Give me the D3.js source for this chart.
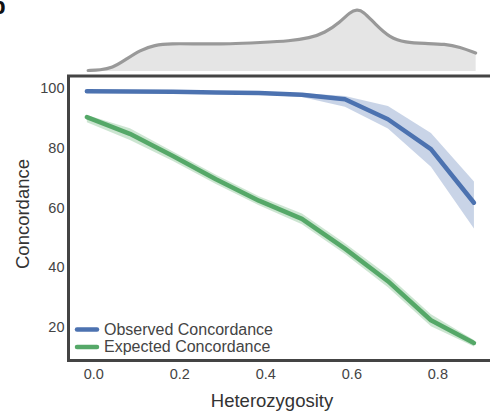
<!DOCTYPE html>
<head>
  <meta charset="utf-8">
  <script src="https://d3js.org/d3.v7.min.js"></script>
  <style>
    html, body { margin: 0; padding: 0; background: #fff; overflow: hidden; }
    svg { display: block; font-family: "Liberation Sans", Arial, sans-serif; }
  </style>
</head>
<body>
<script>
  // heterozygosity bins (x) and concordance series
  var het = [-0.015, 0.085, 0.185, 0.285, 0.385, 0.485, 0.585, 0.685, 0.785, 0.885];
  var observed = [99.0, 98.9, 98.8, 98.6, 98.4, 97.8, 96.3, 89.6, 79.6, 61.6];
  var observedLo = [98.7, 98.6, 98.4, 98.2, 97.9, 97.1, 93.8, 86.5, 73.7, 53.0];
  var observedHi = [99.3, 99.2, 99.1, 99.0, 98.8, 98.4, 97.4, 94.0, 85.0, 68.7];
  var expected = [90.3, 84.7, 77.3, 69.5, 62.3, 56.2, 46.2, 35.3, 22.2, 14.6];
  var expectedLo = [88.6, 82.6, 75.6, 67.9, 60.8, 54.4, 44.4, 33.3, 20.2, 13.4];
  var expectedHi = [91.0, 86.6, 78.8, 71.0, 63.8, 58.0, 48.0, 37.3, 24.2, 15.6];

  // marginal density of heterozygosity (top panel)
  var densX = [-0.012, 0.016, 0.044, 0.074, 0.109, 0.143, 0.178, 0.248, 0.318, 0.388, 0.457, 0.503,
               0.538, 0.574, 0.597, 0.613, 0.627, 0.655, 0.690, 0.725, 0.771, 0.818, 0.852, 0.889];
  var densY = [0.05, 0.1, 0.3, 1.1, 2.1, 2.6, 2.75, 2.7, 2.7, 2.85, 3.0, 3.3,
               3.8, 4.9, 5.9, 6.15, 6.0, 4.7, 3.3, 2.85, 2.75, 2.7, 2.4, 1.8];

  var xTicks = [0.0, 0.2, 0.4, 0.6, 0.8];
  var yTicks = [20, 40, 60, 80, 100];
  var seriesNames = ["Observed Concordance", "Expected Concordance"];
  var colors = ["#4c72b0", "#55a868"];

  var W = 490, H = 417;
  var svg = d3.select("body").append("svg").attr("width", W).attr("height", H);

  var xScale = d3.scaleLinear().domain([-0.0577, 0.9335]).range([68.5, 494.8]);
  var yScale = d3.scaleLinear().domain([8.7, 104.1]).range([360.5, 76]);
  var dScale = d3.scaleLinear().domain([0, 6.15]).range([71, 9.5]);

  // panel letters (cut off in the original figure)
  svg.append("text").attr("x", -9).attr("y", 14).attr("font-size", 24)
    .attr("font-weight", "bold").attr("fill", "#111").text("b");
  svg.append("text").attr("x", -8).attr("y", 432).attr("font-size", 24)
    .attr("font-weight", "bold").attr("fill", "#111").text("c");

  // density panel
  var dens = densX.map(function(x, i) { return [x, densY[i]]; });
  svg.append("path").datum(dens)
    .attr("d", d3.area().curve(d3.curveBasis)
      .x(function(d) { return xScale(d[0]); })
      .y0(dScale(0)).y1(function(d) { return dScale(d[1]); }))
    .attr("fill", "#e5e5e5");
  svg.append("path").datum(dens)
    .attr("d", d3.line().curve(d3.curveBasis)
      .x(function(d) { return xScale(d[0]); })
      .y(function(d) { return dScale(d[1]); }))
    .attr("fill", "none").attr("stroke", "#999").attr("stroke-width", 3.2)
    .attr("stroke-linecap", "round");

  // main plot bands and lines
  var series = [
    {mid: observed, lo: observedLo, hi: observedHi},
    {mid: expected, lo: expectedLo, hi: expectedHi}
  ];
  var plot = svg.append("g");
  series.forEach(function(s, k) {
    var pts = het.map(function(h, i) { return {x: h, m: s.mid[i], lo: s.lo[i], hi: s.hi[i]}; });
    plot.append("path").datum(pts)
      .attr("d", d3.area()
        .x(function(d) { return xScale(d.x); })
        .y0(function(d) { return yScale(d.lo); })
        .y1(function(d) { return yScale(d.hi); }))
      .attr("fill", colors[k]).attr("fill-opacity", 0.3);
  });
  series.forEach(function(s, k) {
    var pts = het.map(function(h, i) { return {x: h, m: s.mid[i]}; });
    plot.append("path").datum(pts)
      .attr("d", d3.line()
        .x(function(d) { return xScale(d.x); })
        .y(function(d) { return yScale(d.m); }))
      .attr("fill", "none").attr("stroke", colors[k]).attr("stroke-width", 4.5)
      .attr("stroke-linecap", "round").attr("stroke-linejoin", "round");
  });

  // frame: left, top and bottom edges (right edge falls outside the crop)
  var x0 = xScale.range()[0], x1 = W + 2, yT = yScale.range()[1], yB = yScale.range()[0];
  svg.append("path")
    .attr("d", "M" + x1 + "," + yT + "H" + x0 + "V" + yB + "H" + x1)
    .attr("fill", "none").attr("stroke", "#444").attr("stroke-width", 3);

  // axes
  var xAxis = svg.append("g").attr("transform", "translate(0," + yB + ")")
    .call(d3.axisBottom(xScale).tickValues(xTicks).tickSize(0).tickPadding(8)
      .tickFormat(d3.format(".1f")));
  var yAxis = svg.append("g").attr("transform", "translate(" + x0 + ",0)")
    .call(d3.axisLeft(yScale).tickValues(yTicks).tickSize(0).tickPadding(4));
  [xAxis, yAxis].forEach(function(a) {
    a.select(".domain").remove();
    a.selectAll("text").attr("font-size", 14.5).attr("fill", "#444")
      .attr("font-family", "Liberation Sans, Arial, sans-serif");
  });

  svg.append("text").attr("x", 272).attr("y", 407).attr("text-anchor", "middle")
    .attr("font-size", 18.5).attr("fill", "#333").text("Heterozygosity");
  svg.append("text").attr("transform", "translate(29,214) rotate(-90)")
    .attr("text-anchor", "middle").attr("font-size", 18.5).attr("fill", "#333").text("Concordance");

  // legend
  var legend = svg.append("g").attr("transform", "translate(77,329.5)");
  seriesNames.forEach(function(name, i) {
    legend.append("line").attr("x1", 0).attr("x2", 20).attr("y1", i * 17.5).attr("y2", i * 17.5)
      .attr("stroke", colors[i]).attr("stroke-width", 4.5).attr("stroke-linecap", "round");
    legend.append("text").attr("x", 27).attr("y", i * 17 + 5.5).attr("font-size", 16)
      .attr("fill", "#444").text(name);
  });
</script>
</body>
